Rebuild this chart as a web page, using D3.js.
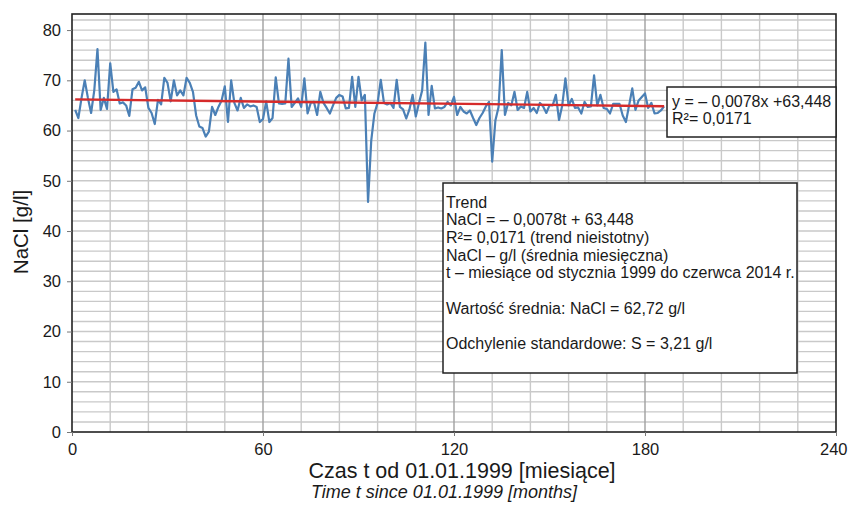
<!DOCTYPE html>
<html>
<head>
<meta charset="utf-8">
<script src="https://cdn.jsdelivr.net/npm/d3@7"></script>
<style>
  body { margin: 0; background: #fff; }
  text { font-family: "Liberation Sans", Arial, sans-serif; fill: #1a1a1a; }
</style>
</head>
<body>
<script>
// miesiące 1..186 (01.1999 - 06.2014)
const months = d3.range(1, 187);
// średnie miesięczne NaCl [g/l]
const nacl = [
  64.1, 62.5, 66.5, 70.0, 66.5, 63.5, 68.0, 76.2, 64.1, 66.5,
  64.3, 73.4, 67.7, 68.2, 65.4, 65.6, 65.0, 62.9, 68.2, 68.5,
  69.7, 68.0, 68.6, 64.5, 63.5, 61.3, 66.1, 65.2, 70.5, 69.5,
  65.8, 70.0, 67.0, 68.0, 67.0, 70.5, 69.5, 67.7, 63.0, 60.8,
  60.5, 58.8, 59.8, 64.7, 63.1, 64.7, 66.0, 68.8, 61.7, 70.0,
  65.5, 64.0, 66.5, 64.5, 65.2, 64.8, 65.0, 64.7, 61.7, 62.3,
  65.8, 61.7, 62.5, 70.6, 65.4, 65.3, 65.4, 74.3, 64.7, 65.5,
  66.4, 64.7, 70.4, 63.4, 65.5, 65.7, 63.1, 67.7, 65.5, 64.5,
  63.4, 65.0, 66.5, 67.1, 66.8, 64.4, 64.5, 70.7, 64.7, 70.7,
  66.0, 67.1, 45.8, 58.0, 63.4, 65.5, 70.1, 65.5, 65.2, 65.5,
  64.5, 70.1, 64.7, 64.2, 62.4, 64.2, 67.1, 62.8, 65.5, 68.0,
  77.5, 63.1, 68.9, 64.4, 64.6, 64.4, 64.7, 65.7, 65.0, 66.7,
  63.1, 64.7, 63.8, 63.4, 64.0, 62.5, 61.1, 62.5, 63.5, 64.8,
  65.7, 53.8, 62.0, 64.7, 76.0, 63.1, 65.5, 65.0, 67.7, 64.1,
  64.8, 64.5, 67.7, 63.8, 64.5, 63.5, 65.5, 64.8, 63.5, 65.0,
  65.0, 67.1, 62.1, 65.0, 70.4, 65.0, 66.3, 64.5, 64.6, 63.4,
  65.7, 64.7, 64.8, 71.0, 65.0, 67.1, 64.5, 64.3, 63.4, 65.3,
  65.3, 65.3, 63.0, 61.7, 65.0, 68.4, 64.1, 66.0, 66.7, 67.4,
  64.5, 65.5, 63.4, 63.5, 64.0, 64.8
];
// linia trendu (jak na rysunku)
const trendT = [1, 186];
const trendV = [66.2, 64.85];

const xTicks = [0, 60, 120, 180, 240];
const yTicks = [0, 10, 20, 30, 40, 50, 60, 70, 80];

const eqLines = ["y = \u2013 0,0078x +63,448", "R\u00b2= 0,0171"];
const infoLines = [
  "Trend",
  "NaCl = \u2013 0,0078t + 63,448",
  "R\u00b2= 0,0171 (trend nieistotny)",
  "NaCl \u2013 g/l (\u015brednia miesi\u0119czna)",
  "t \u2013 miesi\u0105ce od stycznia 1999 do czerwca 2014 r.",
  "",
  "Warto\u015b\u0107 \u015brednia: NaCl = 62,72 g/l",
  "",
  "Odchylenie standardowe: S = 3,21 g/l"
];

const W = 848, H = 506;
const m = { left: 72, right: 836, top: 14, bottom: 432 };

const svg = d3.select("body").append("svg")
  .attr("width", W)
  .attr("height", H);

const x = d3.scaleLinear().domain([0, 240]).range([m.left, m.right]);
const y = d3.scaleLinear().domain([0, 83.2]).range([m.bottom, m.top]);

// siatka
svg.append("g")
  .selectAll("line")
  .data(d3.range(2, 84, 2))
  .enter().append("line")
  .attr("x1", m.left).attr("x2", m.right)
  .attr("y1", d => y(d)).attr("y2", d => y(d))
  .attr("stroke", "#c9c9c9")
  .attr("stroke-width", 1.4);

svg.append("g")
  .selectAll("line")
  .data(d3.range(12, 240, 12))
  .enter().append("line")
  .attr("x1", d => x(d)).attr("x2", d => x(d))
  .attr("y1", m.top).attr("y2", m.bottom)
  .attr("stroke", d => d % 60 == 0 ? "#a0a0a0" : "#c9c9c9")
  .attr("stroke-width", 1.4);

// seria
const line = d3.line()
  .x((d, i) => x(months[i]))
  .y(d => y(d));

svg.append("path")
  .datum(nacl)
  .attr("d", line)
  .attr("fill", "none")
  .attr("stroke", "#4b80b6")
  .attr("stroke-width", 2.2)
  .attr("stroke-linejoin", "round");

svg.append("line")
  .attr("x1", x(trendT[0])).attr("y1", y(trendV[0]))
  .attr("x2", x(trendT[1])).attr("y2", y(trendV[1]))
  .attr("stroke", "#d62b2b")
  .attr("stroke-width", 2.4);

// ramka i osie
svg.append("rect")
  .attr("x", m.left).attr("y", m.top)
  .attr("width", m.right - m.left).attr("height", m.bottom - m.top)
  .attr("fill", "none")
  .attr("stroke", "#222")
  .attr("stroke-width", 1.6);

const yAxis = svg.append("g")
  .attr("transform", `translate(${m.left},0)`)
  .call(d3.axisLeft(y).tickValues(yTicks).tickSize(5).tickPadding(6));
yAxis.select(".domain").remove();
yAxis.selectAll("line").attr("stroke", "#777");
yAxis.selectAll("text").attr("font-size", 16.5).attr("font-family", null);

const xAxis = svg.append("g")
  .attr("transform", `translate(0,${m.bottom})`)
  .call(d3.axisBottom(x).tickValues(xTicks).tickSize(4).tickPadding(7));
xAxis.select(".domain").remove();
xAxis.selectAll("line").attr("stroke", "#777");
xAxis.selectAll("text").attr("font-size", 16.5).attr("font-family", null);
// ostatnia etykieta (240) przy prawej krawędzi
xAxis.selectAll("text")
  .filter(d => d == 240)
  .attr("text-anchor", "end")
  .attr("dx", 11);

// tytuły osi
svg.append("text")
  .attr("transform", "translate(28,232) rotate(-90)")
  .attr("text-anchor", "middle")
  .attr("font-size", 20.5)
  .text("NaCl [g/l]");

svg.append("text")
  .attr("x", 462).attr("y", 478)
  .attr("text-anchor", "middle")
  .attr("font-size", 21.5)
  .text("Czas t od 01.01.1999 [miesi\u0105ce]");

svg.append("text")
  .attr("x", 444).attr("y", 498)
  .attr("text-anchor", "middle")
  .attr("font-size", 18)
  .attr("font-style", "italic")
  .text("Time t since 01.01.1999 [months]");

// ramka z równaniem
svg.append("rect")
  .attr("x", 667).attr("y", 87)
  .attr("width", m.right - 667).attr("height", 50)
  .attr("fill", "#fff")
  .attr("stroke", "#222")
  .attr("stroke-width", 1.5);

svg.selectAll(".eq")
  .data(eqLines)
  .enter().append("text")
  .attr("class", "eq")
  .attr("x", 672)
  .attr("y", (d, i) => 107 + i * 17)
  .attr("font-size", 16)
  .text(d => d);

// ramka z opisem trendu
svg.append("rect")
  .attr("x", 443).attr("y", 183)
  .attr("width", 354).attr("height", 190)
  .attr("fill", "#fff")
  .attr("stroke", "#222")
  .attr("stroke-width", 1.5);

svg.selectAll(".info")
  .data(infoLines)
  .enter().append("text")
  .attr("class", "info")
  .attr("x", 446)
  .attr("y", (d, i) => 207.5 + i * 17.7)
  .attr("font-size", 16)
  .text(d => d);
</script>
</body>
</html>
